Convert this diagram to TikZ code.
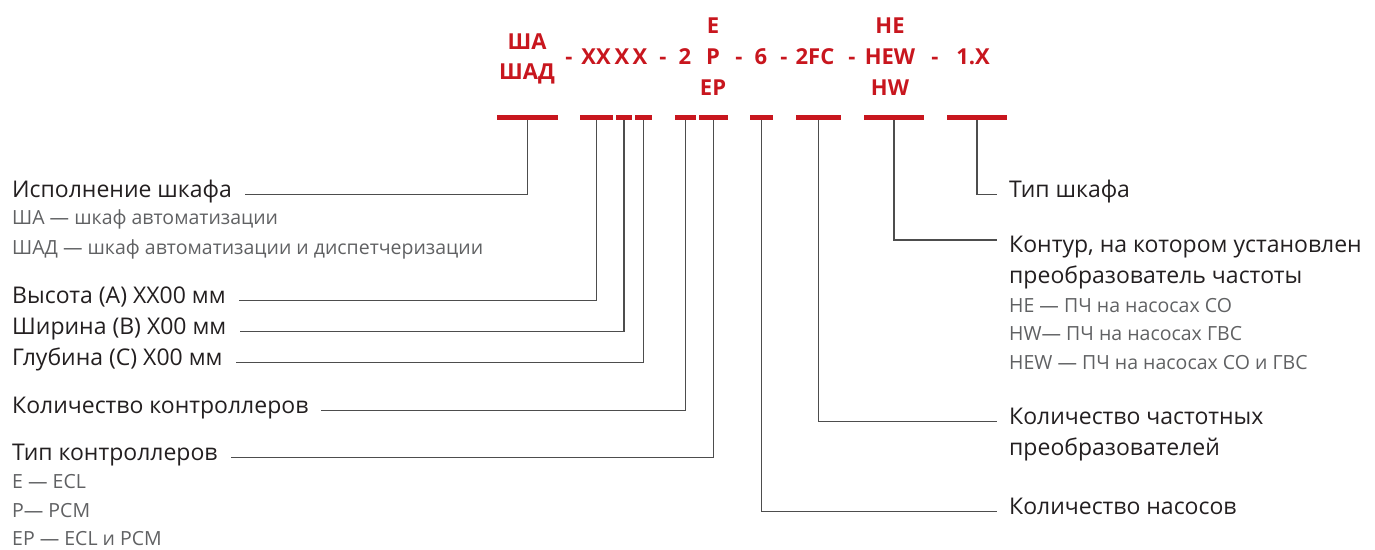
\documentclass[tikz,border=0pt]{standalone}
\usepackage{fontspec}
\setmainfont{Open Sans}

\begin{document}
\begin{tikzpicture}[x=1pt,y=-1pt,
  bar/.style={fill=codeRed, inner sep=0pt, minimum height=5pt},
  code/.style={text=codeRed, font=\fontsize{22}{26}\selectfont\bfseries, anchor=base, inner sep=0pt},
  head/.style={text=textBlack, font=\fontsize{23}{27}\selectfont, anchor=base west, inner sep=0pt},
  note/.style={text=textGray, font=\fontsize{19.5}{23}\selectfont, anchor=base west, inner sep=0pt},
  lead/.style={draw=lineGray, line width=1.3pt}]

% Colori
\definecolor{codeRed}{HTML}{C8161E}
\definecolor{textBlack}{HTML}{231F20}
\definecolor{textGray}{HTML}{606163}
\definecolor{lineGray}{HTML}{4D4D4D}

\useasboundingbox (0,0) rectangle (1375,549);

% Codice
\node[code] (cSha)  at (527,49) {ША};
\node[code] (cShad) at (527,79) {ШАД};
\node[code] (d1) at (569,64) {-};
\node[code] (cXX) at (596,64) {XX};
\node[code] (cX3) at (622,64) {X};
\node[code] (cX4) at (640,64) {X};
\node[code] (d2) at (663,64) {-};
\node[code] (cN) at (685,64) {2};
\node[code] (cE)  at (713,33) {E};
\node[code] (cP)  at (713,64) {P};
\node[code] (cEP) at (713,95) {EP};
\node[code] (d3) at (739,64) {-};
\node[code] (c6) at (761,64) {6};
\node[code] (d4) at (784,64) {-};
\node[code] (cFC) at (815,64) {2FC};
\node[code] (d5) at (852,64) {-};
\node[code] (cHE)  at (890,33) {HE};
\node[code] (cHEW) at (890,64) {HEW};
\node[code] (cHW)  at (890,95) {HW};
\node[code] (d6) at (935,64) {-};
\node[code] (c1X) at (973,64) {1.X};

% Barre rosse
\node[bar, minimum width=61pt] (bSh)   at (527.5,117.5) {};
\node[bar, minimum width=33pt] (bA)    at (596.5,117.5) {};
\node[bar, minimum width=16pt] (bB)    at (624,117.5) {};
\node[bar, minimum width=17pt] (bC)    at (643.5,117.5) {};
\node[bar, minimum width=21pt] (bNum)  at (685.5,117.5) {};
\node[bar, minimum width=29pt] (bTyp)  at (713.5,117.5) {};
\node[bar, minimum width=23pt] (bPump) at (761.5,117.5) {};
\node[bar, minimum width=45pt] (bFC)   at (818.5,117.5) {};
\node[bar, minimum width=60pt] (bCont) at (894,117.5) {};
\node[bar, minimum width=60pt] (bType) at (977,117.5) {};

% Etichette a sinistra
\node[head] (lIsp) at (12,197) {Исполнение шкафа};
\node[note] (lSha) at (12,224) {ША — шкаф автоматизации};
\node[note] (lShad) at (12,254) {ШАД — шкаф автоматизации и диспетчеризации};
\node[head] (lH) at (12,303) {Высота (A) XX00 мм};
\node[head] (lW) at (12,334) {Ширина (B) X00 мм};
\node[head] (lD) at (12,365) {Глубина (C) X00 мм};
\node[head] (lNum) at (12,413) {Количество контроллеров};
\node[head] (lTyp) at (12,460) {Тип контроллеров};
\node[note] (lE)  at (12,488) {E — ECL};
\node[note] (lP)  at (12,517) {P— PCM};
\node[note] (lEP) at (12,545) {EP — ECL и PCM};

% Etichette a destra
\node[head] (rType) at (1009,197) {Тип шкафа};
\node[head] (rCont) at (1009,252) {Контур, на котором установлен};
\node[head] (rCont2) at (1009,283) {преобразователь частоты};
\node[note] (rHE)  at (1009,312) {HE — ПЧ на насосах СО};
\node[note] (rHW)  at (1009,340) {HW— ПЧ на насосах ГВС};
\node[note] (rHEW) at (1009,369) {HEW — ПЧ на насосах СО и ГВС};
\node[head] (rFC)  at (1009,424) {Количество частотных};
\node[head] (rFC2) at (1009,455) {преобразователей};
\node[head] (rPump) at (1009,514) {Количество насосов};

% Linee di richiamo
\draw[lead] (bSh.south)  |- ([xshift=13pt]lIsp.mid east);
\draw[lead] (bA.south)   |- ([xshift=13pt]lH.mid east);
\draw[lead] (bB.south)   |- ([xshift=13pt]lW.mid east);
\draw[lead] (bC.south)   |- ([xshift=13pt]lD.mid east);
\draw[lead] (bNum.south) |- ([xshift=13pt]lNum.mid east);
\draw[lead] (bTyp.south) |- ([xshift=13pt]lTyp.mid east);
\draw[lead] (bType.south) |- ([xshift=-12pt]rType.mid west);
\draw[lead] (bCont.south) |- ([xshift=-12pt,yshift=12pt]rCont.base west);
\draw[lead] (bFC.south)   |- ([xshift=-12pt]rFC.mid west);
\draw[lead] (bPump.south) |- ([xshift=-12pt]rPump.mid west);

\end{tikzpicture}
\end{document}
